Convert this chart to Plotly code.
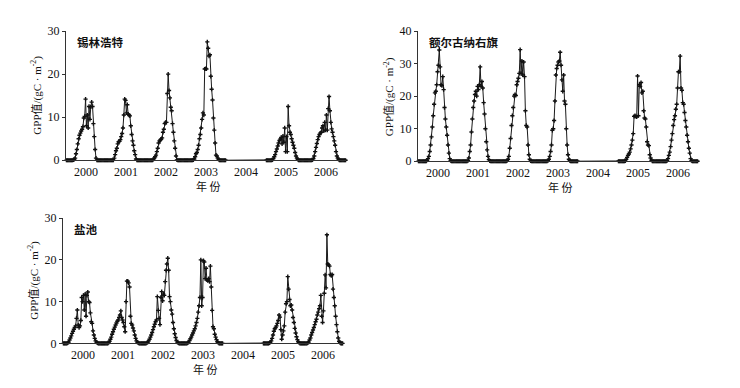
import plotly.graph_objects as go

years = [2000, 2001, 2002, 2003, 2005, 2006]
tick_years = [2000, 2001, 2002, 2003, 2004, 2005, 2006]
periods_per_year = 46

# ---- 锡林浩特 ----
xlht_2000 = [0,0,0,0,0,0,0,0,0.1,0.2, 0.5,1.5,2.5,3.8,5.0,5.8,6.3,6.8,7.2,7.8, 9.8,10.2,14.2,8.0,10.5,7.5,12.5,9.5,12.4,13.5, 12.5,8.5,5.5,2.5,0.5,0,0,0,0,0, 0,0,0,0,0,0]
xlht_2001 = [0,0,0,0,0,0,0,0,0,0.5, 1.3,2.2,2.8,3.8,4.3,4.4,4.8,5.5,6.2,7.5, 10.5,14.2,13.9,11.0,12.9,10.7,10.5,10.3,8.0,6.0, 4.5,3.5,2.2,1.3,0.3,0,0,0,0,0, 0,0,0,0,0,0]
xlht_2002 = [0,0,0,0,0,0,0,0,0.2,0.5, 0.8,1.2,2.0,2.8,4.0,4.5,4.7,4.9,5.2,6.5, 7.2,8.5,8.8,8.8,15.5,20.0,16.2,14.5,12.3,11.5, 8.5,6.5,4.5,2.8,1.0,0.1,0,0,0,0, 0,0,0,0,0,0]
xlht_2003 = [0,0,0,0,0,0,0,0,0.1,0.3, 0.8,1.5,1.8,2.5,3.5,5.0,6.0,7.5,9.5,11.0, 10.5,21.2,21.3,21.2,27.5,26.0,24.2,24.5,19.5,16.5, 14.0,9.8,7.0,4.0,1.2,1.0,0.5,0.2,0,0, 0,0,0,0,0,0]
xlht_2005 = [0,0,0,0,0,0,0,0.1,0.4,0.8, 1.3,2.0,2.6,3.3,4.0,4.6,4.9,5.3,3.8,5.6, 4.2,7.5,2.0,5.5,2.0,12.5,8.0,6.5,6.0,5.0, 4.2,3.5,2.8,1.8,1.0,0.5,0.2,0,0,0, 0,0,0,0,0,0]
xlht_2006 = [0,0,0,0,0,0,0,0.1,0.4,1.0, 2.0,3.0,3.9,4.8,5.5,6.0,6.3,6.5,7.5,8.0, 6.8,8.8,7.0,10.5,7.0,12.0,14.8,11.5,8.8,7.3, 6.5,5.5,4.5,3.5,2.0,1.0,0.5,0.2,0,0, 0,0,0,0,0,0]

# ---- 额尔古纳右旗 ----
eegn_2000 = [0,0,0,0,0,0,0,0,0,0, 0.3,0.8,1.5,3.0,5.0,7.5,10.5,14.0,17.5,21.0, 21.5,23.5,27.5,29.5,34.2,29.0,23.5,23.2,26.0,22.0, 16.5,13.0,10.5,8.0,5.0,2.5,0.8,0.2,0,0, 0,0,0,0,0,0]
eegn_2001 = [0,0,0,0,0,0,0,0,0,0, 0,0.2,1.0,3.0,5.0,9.0,13.0,16.5,18.5,20.5, 21.5,20.0,23.0,22.0,23.5,29.0,23.0,24.5,22.5,18.0, 14.5,10.0,6.0,3.5,1.5,0.5,0.1,0,0,0, 0,0,0,0,0,0]
eegn_2002 = [0,0,0,0,0,0,0,0,0,0, 0.2,0.6,1.5,4.0,7.0,11.0,14.0,16.5,20.0,20.5, 20.2,23.5,24.5,25.5,27.0,34.3,27.0,30.8,26.5,30.5, 26.0,15.5,11.0,10.5,5.0,2.0,0.6,0.1,0,0, 0,0,0,0,0,0]
eegn_2003 = [0,0,0,0,0,0,0,0,0,0, 0,0.2,0.6,1.5,3.0,5.0,9.5,10.0,12.5,18.5, 26.5,28.5,29.5,30.5,30.8,33.5,29.5,25.0,21.5,26.5, 18.5,17.5,10.0,5.0,2.0,0.6,0.2,0,0,0, 0,0,0,0,0,0]
eegn_2005 = [0,0,0,0,0,0,0,0,0.1,0.6, 1.2,1.8,2.2,2.8,3.8,5.0,6.5,8.5,13.8,14.0, 13.8,13.6,26.2,14.0,23.5,23.0,24.2,21.0,21.5,15.5, 13.3,13.0,10.5,6.0,5.0,4.8,2.0,1.0,0.3,0, 0,0,0,0,0,0]
eegn_2006 = [0,0,0,0,0,0,0,0,0,0, 0.2,0.8,1.8,2.8,4.5,6.5,8.5,11.0,12.8,14.0, 16.0,17.5,22.5,27.5,27.5,32.3,22.5,21.8,18.0,17.5, 15.0,12.5,10.5,8.0,6.0,4.0,2.5,0.8,0.2,0, 0,0,0,0,0,0]

# ---- 盐池 ----
yc_2000 = [0,0,0,0,0,0.1,0.3,0.8,1.3,1.8, 2.4,2.9,3.4,3.8,4.2,6.0,8.0,4.4,3.8,4.2, 5.5,11.0,10.0,11.5,8.0,11.8,6.5,11.5,12.3,10.0, 9.8,7.3,5.2,4.8,3.0,2.0,1.2,0.6,0.3,0.1, 0,0,0,0,0,0]
yc_2001 = [0,0,0,0,0,0,0.2,0.5,1.0,1.5, 2.2,2.8,3.4,3.9,4.4,4.9,5.3,5.6,6.2,6.8, 7.8,6.2,5.6,5.0,4.0,2.8,10.0,14.9,14.9,14.5, 13.5,6.5,4.8,4.4,3.7,3.0,2.0,1.2,0.6,0.3, 0.1,0,0,0,0,0]
yc_2002 = [0,0,0,0,0.1,0.3,0.6,1.0,1.5,2.0, 2.6,3.3,4.0,4.6,5.2,5.6,11.2,7.9,6.0,4.5, 11.0,12.4,10.2,11.8,11.5,14.8,17.5,19.0,20.4,17.5, 11.2,10.0,8.0,7.0,5.0,3.5,2.3,1.4,0.7,0.3, 0.1,0,0,0,0,0]
yc_2003 = [0,0,0,0,0,0.1,0.3,0.7,1.1,1.5, 2.0,2.5,3.0,3.5,4.2,5.0,6.0,7.5,9.0,11.0, 20.0,9.0,11.0,19.8,19.5,15.5,18.0,15.2,15.0,15.5, 14.8,18.5,13.5,7.9,4.0,3.5,2.2,1.5,0.9,0.4, 0.2,0,0,0,0,0]
yc_2005 = [0,0,0,0,0,0,0,0.1,0.3,0.6, 1.2,2.0,2.9,3.5,3.8,4.2,4.8,5.5,6.8,6.3, 3.3,1.0,2.0,3.0,4.2,7.5,9.5,10.0,16.0,13.0, 10.5,9.0,9.2,8.0,6.2,5.0,3.6,2.5,1.6,0.9, 0.4,0.2,0,0,0,0]
yc_2006 = [0,0,0,0,0,0.1,0.3,0.8,1.3,2.0, 2.6,3.2,3.8,4.5,5.2,5.8,6.8,7.5,8.3,9.0, 11.5,6.5,5.0,7.8,12.0,16.4,13.3,26.0,19.0,18.8, 18.5,16.5,16.2,16.5,13.0,11.0,9.0,6.5,4.5,2.8, 1.3,0.5,0.2,0,0,0]

sites = ["锡林浩特", "额尔古纳右旗", "盐池"]
site_series = [
    [xlht_2000, xlht_2001, xlht_2002, xlht_2003, xlht_2005, xlht_2006],
    [eegn_2000, eegn_2001, eegn_2002, eegn_2003, eegn_2005, eegn_2006],
    [yc_2000, yc_2001, yc_2002, yc_2003, yc_2005, yc_2006],
]
y_max = [30, 40, 30]
y_dtick = [10, 10, 10]

for s in site_series:
    for arr in s:
        assert len(arr) == periods_per_year, len(arr)

W, H = 740, 388
# panel pixel boxes: (left, right, top, bottom)
boxes = [(66, 346, 25, 159), (418, 698, 25, 160), (63, 343, 219, 349)]

SERIF = "Liberation Serif, Times New Roman, Noto Sans CJK SC, serif"
CJK = "Noto Sans CJK SC, sans-serif"

fig = go.Figure()
layout = dict(
    width=W, height=H,
    margin=dict(l=0, r=0, t=0, b=0),
    paper_bgcolor="white", plot_bgcolor="white",
    showlegend=False,
)
annotations = []

for k, (site, series) in enumerate(zip(sites, site_series)):
    xs, ys = [], []
    for yr, vals in zip(years, series):
        for i, v in enumerate(vals):
            xs.append(yr + (i + 0.5) / periods_per_year)
            ys.append(v)
    ax = "" if k == 0 else str(k + 1)
    fig.add_trace(go.Scatter(
        x=xs, y=ys, mode="lines+markers",
        line=dict(color="#1a1a1a", width=1),
        marker=dict(symbol="cross", size=3.5, color="#111111"),
        cliponaxis=False,
        xaxis="x" + ax, yaxis="y" + ax,
    ))
    l, r, t, b = boxes[k]
    layout["xaxis" + ax] = dict(
        domain=[l / W, r / W], range=[2000, 2007], anchor="y" + ax,
        tickvals=[y + 0.5 for y in tick_years], ticktext=[str(y) for y in tick_years],
        showline=True, linecolor="#333", linewidth=1, showgrid=False, zeroline=False,
        ticks="", tickfont=dict(family=SERIF, size=12, color="#111"),
    )
    layout["yaxis" + ax] = dict(
        domain=[1 - b / H, 1 - t / H], range=[0, y_max[k]], dtick=y_dtick[k], anchor="x" + ax,
        showline=True, linecolor="#333", linewidth=1, showgrid=False, zeroline=False,
        ticks="outside", ticklen=3, tickcolor="#333",
        tickfont=dict(family=SERIF, size=12, color="#111"),
    )
    # site name
    annotations.append(dict(
        x=(l + 9) / W, y=1 - (t + 11) / H, xref="paper", yref="paper",
        xanchor="left", yanchor="middle", showarrow=False,
        text="<b>" + site + "</b>", font=dict(family=CJK, size=11.5, color="#111"),
    ))
    # y title
    annotations.append(dict(
        x=(l - 29) / W, y=1 - ((t + b) / 2) / H, xref="paper", yref="paper",
        xanchor="center", yanchor="middle", showarrow=False, textangle=-90,
        text="GPP值/(gC · m<sup>-2</sup>)", font=dict(family=SERIF, size=11, color="#111"),
    ))
    # x title
    annotations.append(dict(
        x=((l + r) / 2 + 2) / W, y=1 - (b + 27) / H, xref="paper", yref="paper",
        xanchor="center", yanchor="middle", showarrow=False,
        text="年 份", font=dict(family=CJK, size=11, color="#111"),
    ))

layout["annotations"] = annotations
fig.update_layout(**layout)
fig.write_html("out.html", config={"displayModeBar": False},
               post_script="document.body.style.margin='0px';")
